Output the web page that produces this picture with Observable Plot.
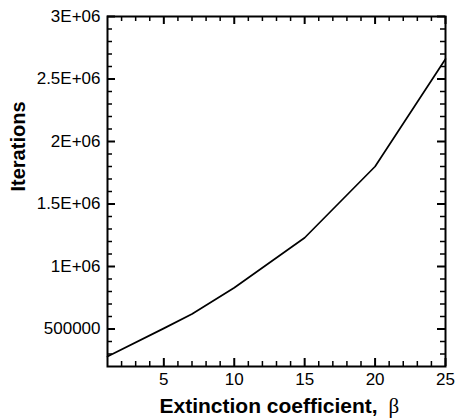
<!DOCTYPE html>
<html>
<head>
<meta charset="utf-8">
<script src="https://cdn.jsdelivr.net/npm/d3@7"></script>
<script src="https://cdn.jsdelivr.net/npm/@observablehq/plot@0.6"></script>
<style>
  html, body { margin: 0; padding: 0; background: #fff; }
</style>
</head>
<body>
<div id="chart"></div>
<script>
// Data
const beta = [1, 5, 7, 10, 15, 20, 25];
const iterations = [280000, 505000, 620000, 830000, 1230000, 1800000, 2660000];

// Tick values and labels
const xMajor = [5, 10, 15, 20, 25];
const xLabels = ["5", "10", "15", "20", "25"];
const xMinor = d3.range(2, 25).filter(v => v % 5 !== 0);
const yMajor = [500000, 1000000, 1500000, 2000000, 2500000, 3000000];
const yLabels = ["500000", "1E+06", "1.5E+06", "2E+06", "2.5E+06", "3E+06"];
const yMinor = d3.range(300000, 3000000, 100000).filter(v => v % 500000 !== 0);
const xTitle = ["Extinction coefficient,"];
const xTitleSymbol = ["β"];
const yTitle = ["Iterations"];

const data = beta.map((b, i) => ({beta: b, it: iterations[i]}));

const W = 457, H = 419;
const mL = 107, mR = 12, mT = 16, mB = 53;
const iw = W - mL - mR, ih = H - mT - mB;
const xDom = [1, 25], yDom = [200000, 3000000];
// tick lengths in pixels, converted to data units per axis
const majorPx = 8, minorPx = 5;
const xu = (xDom[1] - xDom[0]) / iw, yu = (yDom[1] - yDom[0]) / ih;
const font = "'Liberation Sans', Arial, Helvetica, sans-serif";

const chart = Plot.plot({
  width: W,
  height: H,
  marginLeft: mL,
  marginRight: mR,
  marginTop: mT,
  marginBottom: mB,
  style: {fontFamily: font},
  x: {domain: xDom},
  y: {domain: yDom},
  marks: [
    Plot.frame({stroke: "black", strokeWidth: 2}),
    // inward ticks: bottom / top
    Plot.ruleX(xMajor, {x: d => d, y1: yDom[0], y2: yDom[0] + majorPx * yu, stroke: "black", strokeWidth: 2}),
    Plot.ruleX(xMajor, {x: d => d, y1: yDom[1] - majorPx * yu, y2: yDom[1], stroke: "black", strokeWidth: 2}),
    Plot.ruleX(xMinor, {x: d => d, y1: yDom[0], y2: yDom[0] + minorPx * yu, stroke: "black", strokeWidth: 1.5}),
    Plot.ruleX(xMinor, {x: d => d, y1: yDom[1] - minorPx * yu, y2: yDom[1], stroke: "black", strokeWidth: 1.5}),
    // inward ticks: left / right
    Plot.ruleY(yMajor, {y: d => d, x1: xDom[0], x2: xDom[0] + majorPx * xu, stroke: "black", strokeWidth: 2}),
    Plot.ruleY(yMajor, {y: d => d, x1: xDom[1] - majorPx * xu, x2: xDom[1], stroke: "black", strokeWidth: 2}),
    Plot.ruleY(yMinor, {y: d => d, x1: xDom[0], x2: xDom[0] + minorPx * xu, stroke: "black", strokeWidth: 1.5}),
    Plot.ruleY(yMinor, {y: d => d, x1: xDom[1] - minorPx * xu, x2: xDom[1], stroke: "black", strokeWidth: 1.5}),
    // tick labels
    Plot.axisX(xMajor, {tickFormat: d => xLabels[xMajor.indexOf(d)], tickSize: 0, tickPadding: 6, fontSize: 17, label: null, fill: "black"}),
    Plot.axisY(yMajor, {tickFormat: d => yLabels[yMajor.indexOf(d)], tickSize: 0, tickPadding: 7, fontSize: 17, label: null, fill: "black"}),
    // data line
    Plot.line(data, {x: "beta", y: "it", stroke: "black", strokeWidth: 1.7}),
    // axis titles
    Plot.text(xTitle, {frameAnchor: "bottom", text: d => d, textAnchor: "start", lineAnchor: "bottom", dx: 159 - (mL + iw / 2), dy: 46, fontSize: 21, fontWeight: "bold", fill: "black"}),
    Plot.text(xTitleSymbol, {frameAnchor: "bottom", text: d => d, textAnchor: "start", lineAnchor: "bottom", dx: 388 - (mL + iw / 2), dy: 46, fontSize: 21, fontFamily: "'Liberation Serif', 'Times New Roman', serif", fill: "black"}),
    Plot.text(yTitle, {frameAnchor: "left", text: d => d, rotate: -90, lineAnchor: "middle", dx: 18 - mL, fontSize: 20, fontWeight: "bold", fill: "black"})
  ]
});

document.getElementById("chart").appendChild(chart);
</script>
</body>
</html>
